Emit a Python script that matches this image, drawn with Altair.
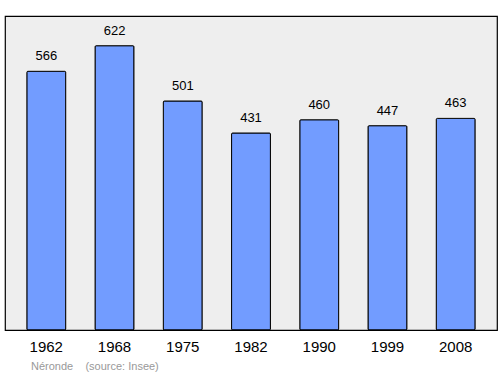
import altair as alt
import pandas as pd

years = ["1962", "1968", "1975", "1982", "1990", "1999", "2008"]
population = [566, 622, 501, 431, 460, 447, 463]

df = pd.DataFrame({"year": years, "pop": population})

x = alt.X("year:N", sort=years,
          scale=alt.Scale(paddingInner=0.43, paddingOuter=0.32),
          axis=alt.Axis(title=None, labelAngle=0, ticks=False, domain=False,
                        labelFontSize=15, labelFont="Liberation Sans",
                        labelColor="#000", labelPadding=9))
y = alt.Y("pop:Q", scale=alt.Scale(domain=[0, 687], nice=False, zero=True),
          axis=None)

bars = alt.Chart(df).mark_bar(color="#729cff", stroke="#000", strokeWidth=1,
                              cornerRadius=1).encode(x=x, y=y)
labels = alt.Chart(df).mark_text(dy=-15, fontSize=13, font="Liberation Sans",
                                 color="#000").encode(x=x, y=y, text="pop:Q")

chart = alt.layer(bars, labels).properties(
    width=492, height=314,
    autosize=alt.AutoSizeParams(type="none"),
    padding={"left": 5, "top": 16, "right": 3, "bottom": 44},
    title=alt.TitleParams("Néronde\u00a0\u00a0\u00a0\u00a0(source: Insee)", orient="bottom",
                          anchor="start", fontSize=11, font="Liberation Sans",
                          fontWeight="normal", color="#999999", dx=26, offset=7),
).configure_view(fill="#eeeeee", stroke="#000", strokeWidth=1.2)

chart.save("out.html", embed_options={"renderer": "svg", "actions": False})
